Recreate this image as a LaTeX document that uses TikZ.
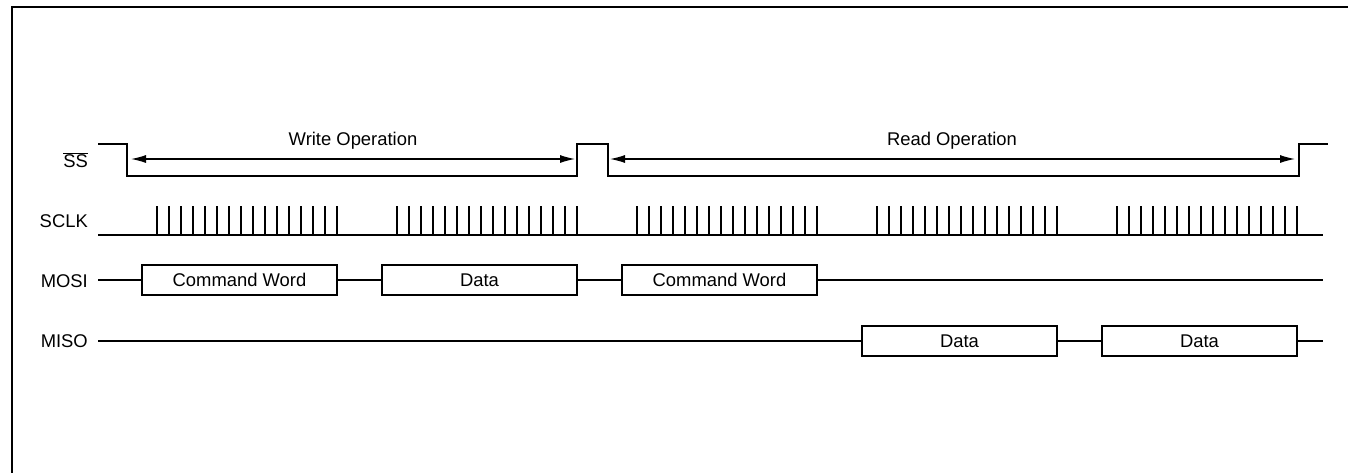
\documentclass[tikz,border=0pt]{standalone}
\usepackage{fontspec}
\setmainfont{Liberation Sans}
\usetikzlibrary{arrows.meta}
\begin{document}
\begin{tikzpicture}[x=1pt,y=-1pt,
  sig/.style={line width=2.2pt,line join=miter},
  tick/.style={line width=2.2pt},
  span/.style={line width=1.2pt,{Latex[length=15pt,width=8pt]}-{Latex[length=15pt,width=8pt]}},
  lab/.style={anchor=east,inner sep=0pt,font=\fontsize{18.4}{22}\selectfont},
  optext/.style={anchor=base,inner sep=0pt,font=\fontsize{18.4}{22}\selectfont},
  word/.style={draw,line width=2.2pt,minimum width=195pt,minimum height=30pt,inner sep=0pt,font=\fontsize{18.4}{22}\selectfont}]
\useasboundingbox (0,0) rectangle (1348,472);
\begin{scope}
\clip (0,0) rectangle (1348,472);
\draw[line width=2.5pt] (1360,7) -- (12,7) -- (12,480);
\end{scope}
% labels
\node[lab] (lss) at (88,160) {$\overline{\hbox{SS}}$};
\node[lab] (lsclk) at (88,221) {SCLK};
\node[lab] (lmosi) at (88,281) {MOSI};
\node[lab] (lmiso) at (88,341) {MISO};
% SS
\coordinate (ss0) at (98,144);
\coordinate (ssw) at (127,176);
\coordinate (ssm1) at (577,176);
\coordinate (ssm2) at (608,176);
\coordinate (ssr) at (1299,176);
\coordinate (ss9) at (1328,144);
\draw[sig] (ss0) -| (ssw) -- (ssm1) |- (608,144) -- (ssm2) -- (ssr) |- (ss9);
\draw[span] (131,159) coordinate (wa) -- (575,159) coordinate (wb);
\draw[span] (610,159) coordinate (ra) -- (1295,159) coordinate (rb);
\node[optext] (wop) at (353,145) {Write Operation};
\node[optext] (rop) at (952,145) {Read Operation};
% SCLK
\coordinate (ck0) at (98,235);
\coordinate (ck9) at (1323,235);
\draw[sig] (ck0) -- (ck9);
\foreach \g in {0,...,4}{
  \foreach \i in {0,...,15}{
    \draw[tick] (157+240*\g+12*\i,235) -- (157+240*\g+12*\i,206);
  }
}
% MOSI
\coordinate (mo0) at (98,280);
\coordinate (mo9) at (1323,280);
\node[word] (cw1) at (239.5,280) {Command Word};
\node[word] (d1) at (479.5,280) {Data};
\node[word] (cw2) at (719.5,280) {Command Word};
\draw[sig] (mo0) -- (cw1.west);
\draw[sig] (cw1.east) -- (d1.west);
\draw[sig] (d1.east) -- (cw2.west);
\draw[sig] (cw2.east) -- (mo9);
% MISO
\coordinate (mi0) at (98,341);
\coordinate (mi9) at (1323,341);
\node[word] (d2) at (959.5,341) {Data};
\node[word] (d3) at (1199.5,341) {Data};
\draw[sig] (mi0) -- (d2.west);
\draw[sig] (d2.east) -- (d3.west);
\draw[sig] (d3.east) -- (mi9);
\end{tikzpicture}
\end{document}
